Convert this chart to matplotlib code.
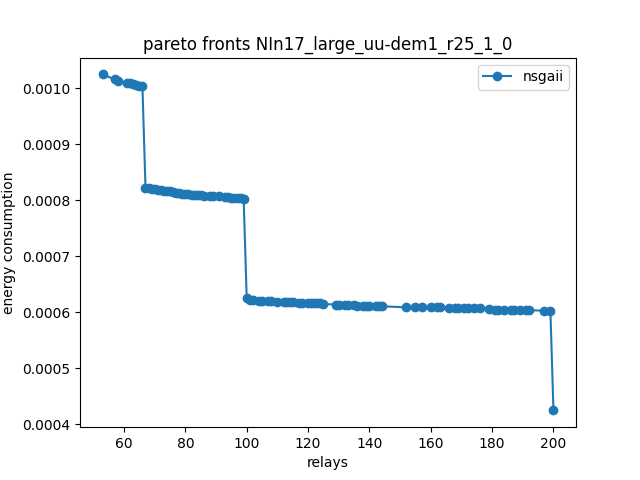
import matplotlib
matplotlib.use("Agg")
import matplotlib.pyplot as plt

relays = [53, 57, 58, 61, 62, 63, 64, 65, 66,
          67, 68, 69, 70, 71, 72, 73, 74, 75, 76, 77, 78, 79, 80, 81, 82, 83,
          84, 85, 86, 88, 89, 91, 93, 94, 95, 96, 97, 98, 99,
          100, 101, 102, 104, 105, 107, 108, 110, 112, 113, 114, 115, 117, 118,
          120, 121, 122, 123, 124, 125, 129, 130, 132, 133, 135, 136, 138, 139,
          140, 142, 143, 144,
          152, 155, 157, 160, 162, 163, 166, 168, 169, 171, 172, 174, 176,
          179, 181, 182, 184, 186, 187, 189, 191, 192, 197, 199, 200]
energy = [0.001025, 0.001016, 0.001014, 0.001010, 0.001009, 0.001008, 0.001006, 0.001005, 0.001004,
          0.000823, 0.000822, 0.000821, 0.000820, 0.000819, 0.000818, 0.000817, 0.000816,
          0.000816, 0.000815, 0.000814, 0.000813, 0.000812, 0.000812, 0.000811, 0.000810,
          0.000810, 0.000809, 0.000809, 0.000808, 0.000808, 0.000807, 0.000807, 0.000806,
          0.000806, 0.000805, 0.000805, 0.000804, 0.000804, 0.000803,
          0.000625, 0.000623, 0.000622, 0.000621, 0.000621, 0.000620, 0.000620, 0.000619,
          0.000619, 0.000619, 0.000618, 0.000618, 0.000617, 0.000617, 0.000616, 0.000616,
          0.000616, 0.000616, 0.000616, 0.000615, 0.000614, 0.000614, 0.000614, 0.000613,
          0.000613, 0.000612, 0.000612, 0.000611, 0.000611, 0.000611, 0.000611, 0.000611,
          0.000609, 0.000609, 0.000609, 0.000609, 0.000609, 0.000609, 0.000608, 0.000607,
          0.000607, 0.000607, 0.000607, 0.000607, 0.000607, 0.000606, 0.000605, 0.000605,
          0.000605, 0.000605, 0.000605, 0.000605, 0.000605, 0.000604, 0.000603, 0.000603,
          0.000425]

plt.figure(figsize=(6.4, 4.8))
plt.plot(relays, energy, marker='o', label="nsgaii")
plt.title("pareto fronts NIn17_large_uu-dem1_r25_1_0")
plt.xlabel("relays")
plt.ylabel("energy consumption")
plt.legend()
plt.savefig("out.png")
